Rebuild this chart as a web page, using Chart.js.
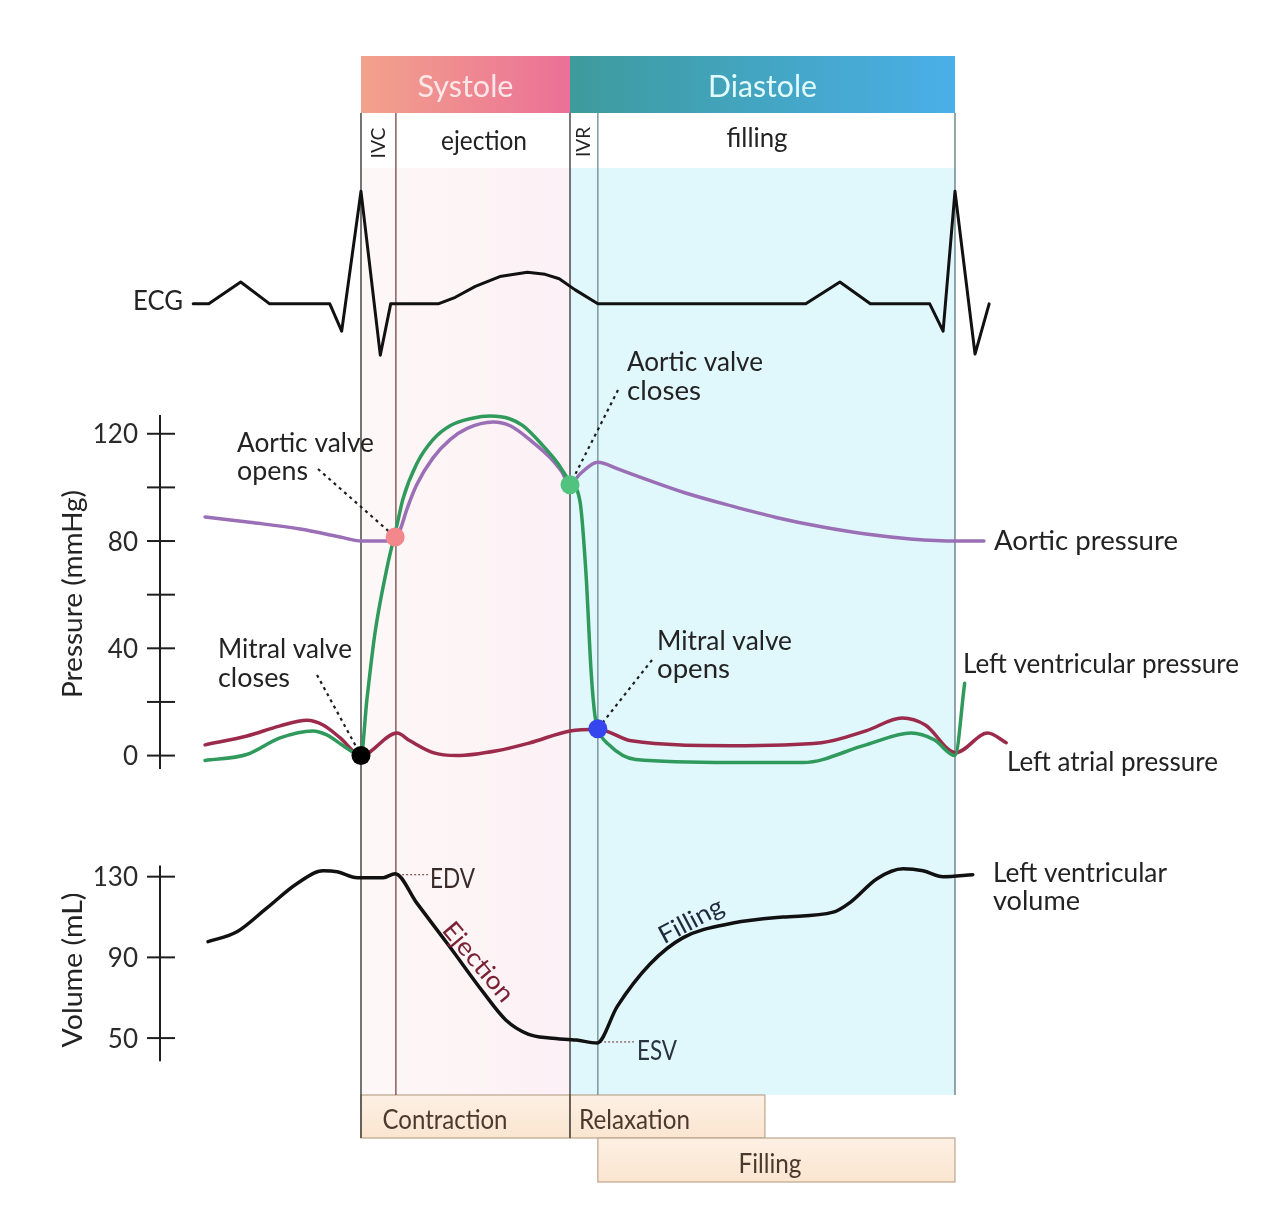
<!DOCTYPE html>
<html>
<head>
<meta charset="utf-8">
<title>Wiggers diagram</title>
<script src="https://cdn.jsdelivr.net/npm/chart.js@4.4.1/dist/chart.umd.min.js"></script>
<style>
  html, body { margin: 0; padding: 0; background: #fff; overflow: hidden; }
  #wrap { width: 1274px; height: 1210px; position: relative; }
</style>
</head>
<body>
<div id="wrap"><canvas id="wiggers"></canvas></div>
<script>
// --- values; time in ms from mitral valve closure ---

// ECG (arbitrary mV, baseline 0, R wave ~1)
const ecgT = [-226, -205, -162, -123, -42, -26, 0, 26, 40, 104, 127, 154, 187, 224, 248, 267, 288, 319, 599, 645, 686, 766, 784, 800, 827, 846];
const ecgV = [0, 0, 0.2, 0, 0, -0.25, 1.03, -0.47, 0, 0, 0.06, 0.16, 0.25, 0.29, 0.27, 0.23, 0.13, 0, 0, 0.2, 0, 0, -0.25, 1.03, -0.46, 0];

// aortic pressure (mmHg)
const aorticT = [-210, -150, -82, -28, 0, 39, 47, 53, 62, 75, 97, 120, 143, 178, 201, 232, 255, 270, 281.5, 295, 319, 345, 389, 436, 500, 559, 620, 680, 740, 801, 839];
const aorticP = [89, 87, 84.5, 81.5, 80, 80, 81.5, 84.4, 92, 101, 111, 117.8, 122, 124.4, 123, 116.7, 111, 106, 101, 105, 109.4, 107, 102.5, 98, 93, 88.8, 85.3, 82.6, 80.8, 80, 80];

// left ventricular pressure (mmHg)
const lvT = [-210, -154, -109, -65, -46, -24, 0, 8, 19, 35, 48.5, 56.6, 75.4, 97, 120, 150, 174, 200, 218, 245, 264, 281.5, 295, 303, 310, 315, 319, 334, 370, 498, 595, 680, 741, 772, 800, 813];
const lvP = [-1.8, 0.4, 6.6, 9.2, 7.7, 3.7, 0, 21, 46, 70, 86, 95.8, 109, 117.8, 123, 125.8, 126.6, 125.6, 123, 115.6, 109.4, 102, 94.7, 68, 31, 15, 10, 4, -1.5, -2.6, -2.6, 4, 8.4, 5.9, 0, 27];

// left atrial pressure (mmHg)
const laT = [-210, -153.5, -110, -72.7, -51, -28, 0, 48.5, 66, 97, 129, 183, 228, 281.5, 319, 364, 498, 620, 680, 729, 760, 801, 844, 869];
const laP = [4, 7.3, 11, 13.2, 11.4, 6.6, 0, 8.4, 5.5, 1.1, 0, 1.8, 4.8, 9.2, 9.8, 5.5, 3.7, 4.8, 9.2, 14, 11.4, 1.1, 8.4, 4.8];

// left ventricular volume (mL)
const volT = [-206, -167, -127, -86, -51, -32, -5, 30, 46, 75, 120, 164, 195, 225, 254, 290, 318, 345, 389, 434, 501, 568, 636, 659, 695, 730, 757, 784, 824];
const volV = [97.8, 102.7, 114.4, 126.6, 132.9, 132.4, 129.5, 129.5, 131.5, 117, 95, 73, 59, 52, 50, 49, 47.6, 65.6, 86.6, 99.8, 107, 110, 112.4, 117.3, 129, 133.9, 132.9, 130, 131];

// valve events: mitral closes, aortic opens, aortic closes, mitral opens
const eventT = [0, 46, 281.5, 319];
const eventP = [0, 81.5, 101, 10];
const eventColors = ['#000000', '#f4878b', '#52c37e', '#3546ee'];

// phase boundaries: IVC start, aortic opens, aortic closes, mitral opens, cycle end
const phaseT = [0, 47, 281.5, 319, 800];
const relaxEndT = 544;
const edvT = 46, edvV = 131;
const esvT = 318, esvV = 47.6;

const pressureTicks = [0, 20, 40, 60, 80, 100, 120];
const volumeTicks = [50, 90, 130];

const pts = (xs, ys) => xs.map((x, i) => ({ x: x, y: ys[i] }));

function label(ctx, str, x, y, size, width, opts) {
    opts = opts || {};
    ctx.save();
    ctx.font = size + 'px Lato, "Noto Sans", sans-serif';
    ctx.fillStyle = opts.color || '#232323';
    ctx.textBaseline = opts.baseline || 'alphabetic';
    ctx.textAlign = opts.align || 'left';
    const w = ctx.measureText(str).width;
    ctx.translate(x, y);
    if (opts.angle) ctx.rotate(opts.angle);
    if (width) ctx.scale(width / w, 1);
    ctx.fillText(str, 0, 0);
    ctx.restore();
}

function line(ctx, x1, y1, x2, y2) {
    ctx.beginPath();
    ctx.moveTo(x1, y1);
    ctx.lineTo(x2, y2);
    ctx.stroke();
}

const decor = {
    id: 'decor',
    beforeDatasetsDraw(chart) {
        const ctx = chart.ctx;
        const X = t => chart.scales.x.getPixelForValue(t);
        const yP = chart.scales.yP, yV = chart.scales.yV;
        const [x0, x1, x2, x3, x4] = phaseT.map(X);
        ctx.save();

        // phase shading
        ctx.fillStyle = '#fdf7f8';
        ctx.fillRect(x0, 168, x1 - x0, 927);
        let g = ctx.createLinearGradient(x1, 0, x2, 0);
        g.addColorStop(0, '#fdf6f6');
        g.addColorStop(1, '#fcf1f6');
        ctx.fillStyle = g;
        ctx.fillRect(x1, 168, x2 - x1, 927);
        ctx.fillStyle = '#e0f8fc';
        ctx.fillRect(x2, 168, x4 - x2, 927);

        // systole / diastole header
        g = ctx.createLinearGradient(x0, 0, x2, 0);
        g.addColorStop(0, '#f2a28c');
        g.addColorStop(1, '#eb7096');
        ctx.fillStyle = g;
        ctx.fillRect(x0, 56, x2 - x0, 57);
        g = ctx.createLinearGradient(x2, 0, x4, 0);
        g.addColorStop(0, '#3d9b9c');
        g.addColorStop(1, '#4aafe8');
        ctx.fillStyle = g;
        ctx.fillRect(x2, 56, x4 - x2, 57);

        // bottom boxes
        const box = (a, b, top, bot) => {
            const bg = ctx.createLinearGradient(0, top, 0, bot);
            bg.addColorStop(0, '#fdf0e3');
            bg.addColorStop(1, '#fae5d0');
            ctx.fillStyle = bg;
            ctx.fillRect(a, top, b - a, bot - top);
            ctx.strokeStyle = '#bda58d';
            ctx.lineWidth = 1.2;
            ctx.strokeRect(a, top, b - a, bot - top);
        };
        box(x0, x2, 1095, 1138);
        box(x2, X(relaxEndT), 1095, 1138);
        box(x3, x4, 1138, 1182);

        // phase lines
        ctx.lineWidth = 1.3;
        [[x0, 1138, '#2b2b2b'], [x1, 1095, '#7a4545'], [x2, 1138, '#303030'],
         [x3, 1095, '#6a8a90'], [x4, 1095, '#5d777c']].forEach(([x, bot, c]) => {
            ctx.strokeStyle = c;
            line(ctx, x, 113, x, bot);
        });

        // axes with crossing ticks
        ctx.strokeStyle = '#1e1e1e';
        ctx.lineWidth = 2;
        const ax = yP.right;
        [[yP, 127, -5], [yV, 135.5, 38.5]].forEach(([s, top, bot]) => {
            line(ctx, ax, s.getPixelForValue(top), ax, s.getPixelForValue(bot));
            s.ticks.forEach(tk => {
                const y = s.getPixelForValue(tk.value);
                line(ctx, ax - 13, y, ax + 15, y);
            });
        });

        // dotted leaders to the valve events
        const mk = eventT.map((t, i) => ({ x: X(t), y: yP.getPixelForValue(eventP[i]) }));
        ctx.strokeStyle = '#1e1e1e';
        ctx.lineWidth = 2.2;
        ctx.setLineDash([3, 4]);
        line(ctx, 317, 675, mk[0].x, mk[0].y);
        line(ctx, 318, 469, mk[1].x, mk[1].y);
        line(ctx, 618, 390, mk[2].x, mk[2].y);
        line(ctx, 652, 660, mk[3].x, mk[3].y);

        // EDV / ESV leaders
        ctx.strokeStyle = '#8a5a5a';
        ctx.lineWidth = 1.3;
        ctx.setLineDash([2, 2]);
        line(ctx, X(edvT) + 3, yV.getPixelForValue(edvV), 428, yV.getPixelForValue(edvV));
        line(ctx, X(esvT) + 3, yV.getPixelForValue(esvV) - 1, 634, yV.getPixelForValue(esvV) - 1);
        ctx.restore();
    },
    afterDatasetsDraw(chart) {
        const ctx = chart.ctx;
        const yP = chart.scales.yP, yV = chart.scales.yV;
        const [x0, x1, x2, x3, x4] = phaseT.map(t => chart.scales.x.getPixelForValue(t));
        const ax = yP.right;

        // header
        label(ctx, 'Systole', (x0 + x2) / 2, 97, 31, 96, { align: 'center', color: '#fde6e8' });
        label(ctx, 'Diastole', (x2 + x4) / 2, 97, 31, 109, { align: 'center', color: '#e2fbff' });
        label(ctx, 'IVC', (x0 + x1) / 2 + 7, 143, 20, 31, { align: 'center', angle: -Math.PI / 2 });
        label(ctx, 'IVR', (x2 + x3) / 2 + 6, 142, 20, 30, { align: 'center', angle: -Math.PI / 2 });
        label(ctx, 'ejection', 484, 150, 26, 86, { align: 'center' });
        label(ctx, 'filling', 757, 147, 26, 61, { align: 'center' });

        // axes labels
        label(ctx, 'ECG', 183, 310, 27, 50, { align: 'right' });
        yP.ticks.forEach(tk => {
            if (tk.value % 40 === 0)
                label(ctx, String(tk.value), ax - 22, yP.getPixelForValue(tk.value) + 9.5, 26, null, { align: 'right', color: '#2a2a2a' });
        });
        yV.ticks.forEach(tk => {
            label(ctx, String(tk.value), ax - 22, yV.getPixelForValue(tk.value) + 9.5, 26, null, { align: 'right', color: '#2a2a2a' });
        });
        label(ctx, 'Pressure (mmHg)', 82, 594, 27, 208, { align: 'center', angle: -Math.PI / 2 });
        label(ctx, 'Volume (mL)', 82, 970, 27, 155, { align: 'center', angle: -Math.PI / 2 });

        // event annotations
        label(ctx, 'Aortic valve', 237, 452, 27, 137);
        label(ctx, 'opens', 237, 480, 27, 71);
        label(ctx, 'Mitral valve', 218, 658, 27, 134);
        label(ctx, 'closes', 218, 687, 27, 72);
        label(ctx, 'Aortic valve', 627, 371, 27, 136);
        label(ctx, 'closes', 627, 400, 27, 74);
        label(ctx, 'Mitral valve', 657, 650, 27, 135);
        label(ctx, 'opens', 657, 678, 27, 73);

        // trace names
        label(ctx, 'Aortic pressure', 994, 550, 27, 184);
        label(ctx, 'Left ventricular pressure', 963, 673, 27, 276);
        label(ctx, 'Left atrial pressure', 1007, 771, 27, 211);
        label(ctx, 'Left ventricular', 993, 882, 27, 174);
        label(ctx, 'volume', 993, 910, 27, 87);
        label(ctx, 'EDV', 430, 888, 26, 45, { color: '#3a2a2a' });
        label(ctx, 'ESV', 637, 1060, 26, 40, { color: '#2a3340' });
        label(ctx, 'Ejection', 478, 962, 25, 96, { align: 'center', baseline: 'middle', angle: 50 * Math.PI / 180, color: '#7a2234' });
        label(ctx, 'Filling', 691, 921, 25, 70, { align: 'center', baseline: 'middle', angle: -28 * Math.PI / 180, color: '#1f2a3d' });

        // bottom boxes
        label(ctx, 'Contraction', 445, 1129, 26, 125, { align: 'center', color: '#4a3a2e' });
        label(ctx, 'Relaxation', 579, 1129, 26, 111, { color: '#4a3a2e' });
        label(ctx, 'Filling', 770, 1173, 26, 63, { align: 'center', color: '#4a3a2e' });
    }
};

const curve = (name, xs, ys, axis, color, width, order, smooth) => ({
    label: name,
    data: pts(xs, ys),
    yAxisID: axis,
    borderColor: color,
    borderWidth: width,
    pointRadius: 0,
    tension: 0,
    cubicInterpolationMode: smooth ? 'monotone' : 'default',
    borderJoinStyle: 'round',
    borderCapStyle: 'round',
    order: order
});

new Chart(document.getElementById('wiggers'), {
    type: 'line',
    data: {
        datasets: [
            {
                label: 'Valve events',
                data: pts(eventT, eventP),
                yAxisID: 'yP',
                showLine: false,
                pointRadius: 9.5,
                pointBorderWidth: 0,
                pointBackgroundColor: eventColors,
                order: 0
            },
            curve('Left ventricular pressure', lvT, lvP, 'yP', '#2f9a5c', 3.5, 2, true),
            curve('Aortic pressure', aorticT, aorticP, 'yP', '#9a6fb6', 3.5, 3, true),
            curve('Left atrial pressure', laT, laP, 'yP', '#9b2a4b', 3.5, 4, true),
            curve('ECG', ecgT, ecgV, 'yE', '#111111', 3, 5, false),
            curve('Left ventricular volume', volT, volV, 'yV', '#111111', 3.5, 5, true)
        ]
    },
    options: {
        responsive: true,
        maintainAspectRatio: false,
        animation: false,
        events: [],
        layout: { padding: { left: 0, top: 0, bottom: 0, right: 14 } },
        plugins: { legend: { display: false }, tooltip: { enabled: false } },
        scales: {
            // t = 0 at the first phase line, t = 800 at the next R wave
            x: { type: 'linear', min: -270.7, max: 1210.8, display: false },
            // each trace gets its own band of the canvas
            yE: { type: 'linear', min: -8.207, max: 2.694, display: false },
            yP: {
                type: 'linear', position: 'left', weight: 2, min: -165.9, max: 278.2,
                afterBuildTicks: s => { s.ticks = pressureTicks.map(v => ({ value: v })); },
                afterFit: s => { s.width = 160; s.paddingTop = 0; s.paddingBottom = 0; },
                ticks: { display: false }, grid: { display: false }, border: { display: false }
            },
            yV: {
                type: 'linear', position: 'left', weight: 1, min: -30.5, max: 559.8,
                afterBuildTicks: s => { s.ticks = volumeTicks.map(v => ({ value: v })); },
                afterFit: s => { s.width = 0; s.paddingTop = 0; s.paddingBottom = 0; },
                ticks: { display: false }, grid: { display: false }, border: { display: false }
            }
        }
    },
    plugins: [decor]
});
</script>
</body>
</html>
